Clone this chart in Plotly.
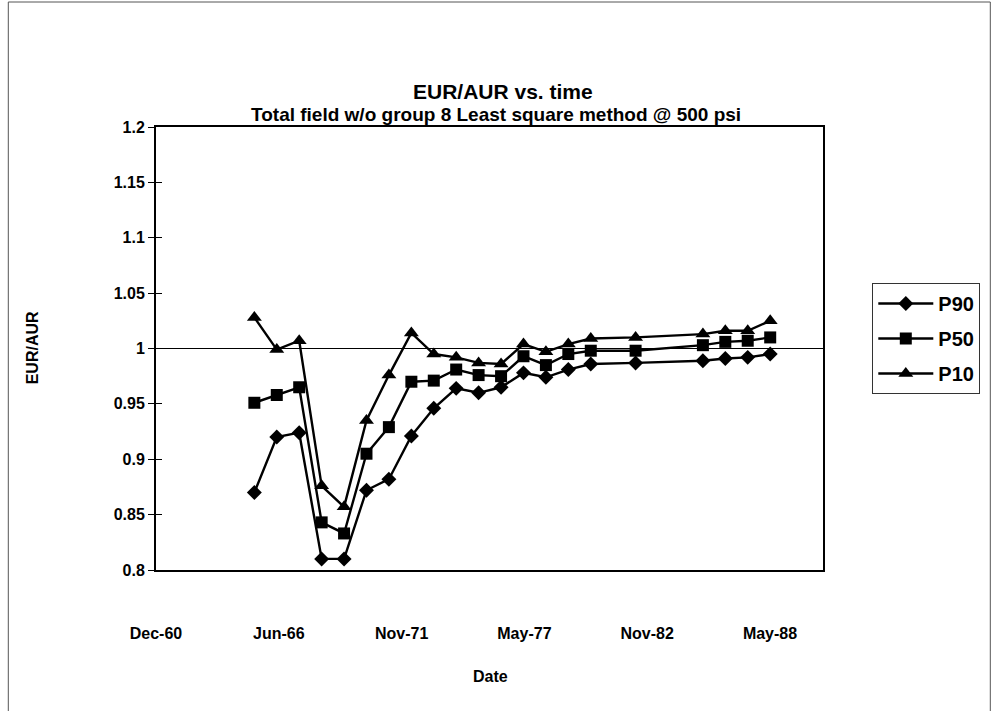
import datetime as dt
import plotly.graph_objects as go

# ---- data ----
years = [1965, 1966, 1967, 1968, 1969, 1970, 1971, 1972, 1973, 1974, 1975,
         1976, 1977, 1978, 1979, 1980, 1982, 1985, 1986, 1987, 1988]
p90 = [0.870, 0.920, 0.924, 0.810, 0.810, 0.872, 0.882, 0.921, 0.946, 0.964, 0.960,
       0.965, 0.978, 0.974, 0.981, 0.986, 0.987, 0.989, 0.991, 0.992, 0.995]
p50 = [0.951, 0.958, 0.965, 0.843, 0.833, 0.905, 0.929, 0.970, 0.971, 0.981, 0.976,
       0.975, 0.993, 0.985, 0.995, 0.998, 0.998, 1.003, 1.006, 1.007, 1.010]
p10 = [1.028, 0.999, 1.007, 0.876, 0.857, 0.935, 0.976, 1.014, 0.995, 0.992, 0.987,
       0.986, 1.004, 0.997, 1.004, 1.009, 1.010, 1.013, 1.016, 1.016, 1.025]
x_tick_labels = ["Dec-60", "Jun-66", "Nov-71", "May-77", "Nov-82", "May-88"]
y_ticks = [0.8, 0.85, 0.9, 0.95, 1.0, 1.05, 1.1, 1.15, 1.2]
y_tick_labels = ["0.8", "0.85", "0.9", "0.95", "1", "1.05", "1.1", "1.15", "1.2"]

dates = [dt.date(y, 5, 10) for y in years]

# axis scale (Excel-like: 2000-day major unit)
t0 = dt.date(1960, 12, 20)
tickvals = [t0 + dt.timedelta(days=2000 * k) for k in range(len(x_tick_labels))]
xmax = t0 + dt.timedelta(days=10863)

FONT = "Liberation Sans, Arial, sans-serif"
L, R, T, B = 155.7, 822.7, 127, 570
W, H = R - L, B - T


def px(x):
    return (x - L) / W


def py(y):
    return (B - y) / H


fig = go.Figure()
series = [("P90", p90, "diamond", 11.5), ("P50", p50, "square", 12), ("P10", p10, "triangle-up", 13)]
for name, vals, sym, sz in series:
    fig.add_trace(go.Scatter(
        x=dates, y=vals, name=name, mode="lines+markers", legendgroup=name,
        line=dict(color="black", width=2.4),
        marker=dict(symbol=sym, size=sz, color="black"),
    ))

fig.update_layout(
    width=998, height=711,
    paper_bgcolor="white", plot_bgcolor="white",
    margin=dict(l=L, r=998 - R, t=T, b=711 - B, autoexpand=False),
    font=dict(family=FONT, color="black"),
    showlegend=True,
    legend=dict(
        x=px(872), y=py(283), xanchor="left", yanchor="top",
        bordercolor="#333", borderwidth=1, bgcolor="white",
        font=dict(size=20, family=FONT, color="black", weight="bold"),
        tracegroupgap=6, itemwidth=55,
    ),
    xaxis=dict(
        type="date", range=[t0, xmax],
        tickvals=tickvals, ticktext=x_tick_labels,
        ticks="", showgrid=False, zeroline=False,
        showline=True, linecolor="black", linewidth=2, mirror=True,
        ticklabelstandoff=48,
        tickfont=dict(size=16, family=FONT, color="black", weight="bold"),
    ),
    yaxis=dict(
        range=[0.8, 1.2], tickvals=y_ticks, ticktext=y_tick_labels,
        ticks="outside", ticklen=6, tickwidth=1, tickcolor="black",
        showgrid=False, zeroline=False,
        showline=True, linecolor="black", linewidth=2, mirror=True,
        tickfont=dict(size=16, family=FONT, color="black", weight="bold"),
    ),
    yaxis2=dict(
        range=[0.8, 1.2], tickvals=y_ticks, overlaying="y", side="left",
        ticks="inside", ticklen=6, tickwidth=1, tickcolor="black",
        showticklabels=False, showgrid=False, zeroline=False, showline=False,
    ),
)

# invisible trace to activate yaxis2
fig.add_trace(go.Scatter(x=[dates[0]], y=[1.0], yaxis="y2", mode="markers",
                         marker=dict(opacity=0), showlegend=False, hoverinfo="skip"))

# reference line at 1
fig.add_shape(type="line", xref="paper", yref="y", x0=0, x1=1, y0=1, y1=1,
              line=dict(color="black", width=1.2))

# outer chart border
fig.add_shape(type="rect", xref="paper", yref="paper",
              x0=px(8), x1=px(990), y0=py(720), y1=py(2),
              line=dict(color="#555", width=1))

ann = [
    ("<b>EUR/AUR vs. time</b>", 503, 91, 21, 0),
    ("<b>Total field w/o group 8 Least square method @ 500 psi</b>", 496, 115, 19, 0),
    ("<b>Date</b>", 490, 676, 16, 0),
    ("<b>EUR/AUR</b>", 32, 348, 16, -90),
]
for text, x, y, size, ang in ann:
    fig.add_annotation(text=text, xref="paper", yref="paper",
                       x=px(x), y=py(y),
                       xanchor="center", yanchor="middle", showarrow=False,
                       textangle=ang,
                       font=dict(size=size, family=FONT, color="black"))

fig.write_html("out.html", config={"displayModeBar": False},
               post_script="document.body.style.margin='0';document.body.style.overflow='hidden';")
